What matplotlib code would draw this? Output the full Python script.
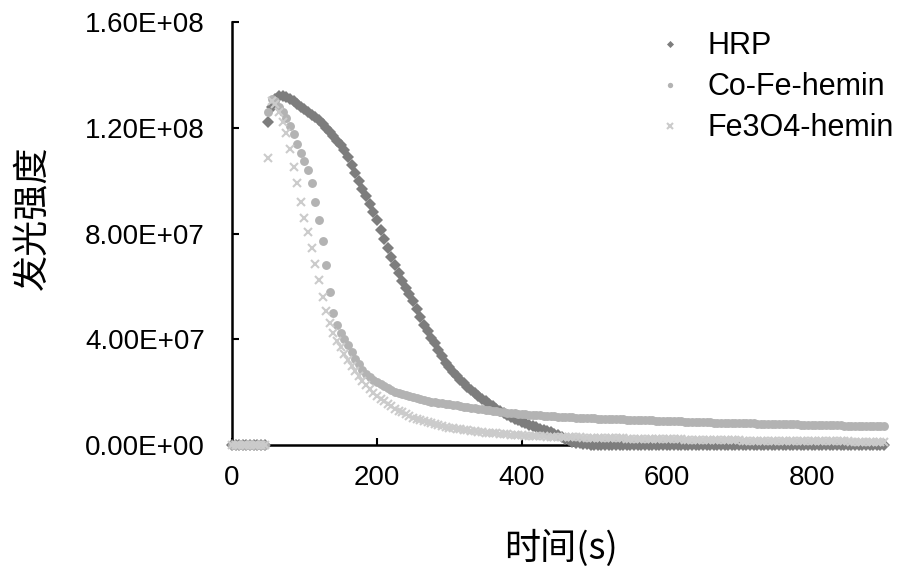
import numpy as np
import matplotlib
matplotlib.use('Agg')
import matplotlib.pyplot as plt
from matplotlib.ticker import FuncFormatter

# data (intensity in units of 1e7), one reading every 5 s from 0 to 900 s
step_s = 5
hrp = [0, 0, 0, 0, 0, 0, 0, 0, 0, 0,
       12.2, 12.8, 13.1, 13.2, 13.2, 13.15, 13.1, 13.0, 12.9, 12.8,
       12.7, 12.6, 12.5, 12.4, 12.3, 12.15, 12.0, 11.85, 11.7, 11.5,
       11.35, 11.15, 10.9, 10.6, 10.3, 10.0, 9.7, 9.4, 9.1, 8.8,
       8.5, 8.15, 7.8, 7.45, 7.1, 6.8, 6.5, 6.2, 5.95, 5.7,
       5.45, 5.15, 4.85, 4.55, 4.3, 4.05, 3.85, 3.6, 3.35, 3.1,
       2.95, 2.78, 2.62, 2.47, 2.33, 2.2, 2.08, 1.96, 1.85, 1.75,
       1.65, 1.56, 1.47, 1.38, 1.3, 1.22, 1.15, 1.07, 1.0, 0.94,
       0.88, 0.82, 0.77, 0.72, 0.67, 0.62, 0.58, 0.53, 0.48, 0.42,
       0.36, 0.3, 0.24, 0.18, 0.13, 0.09, 0.06, 0.04, 0.02] + [0] * 82

co_fe_hemin = [0, 0, 0, 0, 0, 0, 0, 0, 0, 0,
               12.6, 13.1, 13.0, 12.8, 12.6, 12.35, 12.05, 11.75, 11.4, 11.05,
               10.75, 10.4, 9.9, 9.2, 8.5, 7.7, 6.8, 5.8, 5.0, 4.55,
               4.25, 4.0, 3.8, 3.5, 3.25, 3.05, 2.85, 2.7, 2.58, 2.47,
               2.38, 2.3, 2.22, 2.15, 2.08, 2.02, 1.97, 1.92, 1.88, 1.84,
               1.8, 1.76, 1.73, 1.7, 1.67, 1.64, 1.62, 1.6, 1.58, 1.56,
               1.54, 1.52, 1.5, 1.48, 1.45, 1.43, 1.41, 1.39, 1.37, 1.35,
               1.33, 1.31, 1.29, 1.27, 1.25, 1.24, 1.22, 1.21, 1.2, 1.19,
               1.17, 1.16, 1.15, 1.14, 1.13, 1.12, 1.11, 1.1, 1.09, 1.08,
               1.07, 1.07, 1.06, 1.05, 1.05, 1.04, 1.03, 1.03, 1.02, 1.02,
               1.01,
               1.0, 1.0, 0.99, 0.99, 0.98, 0.98, 0.97, 0.97, 0.96, 0.96,
               0.95, 0.95, 0.94, 0.94, 0.93, 0.93, 0.92, 0.92, 0.91, 0.91,
               0.9, 0.9, 0.89, 0.89, 0.88, 0.88, 0.87, 0.87, 0.87, 0.86,
               0.86, 0.86, 0.85, 0.85, 0.85, 0.84, 0.84, 0.84, 0.83, 0.83,
               0.83, 0.82, 0.82, 0.82, 0.81, 0.81, 0.81, 0.8, 0.8, 0.8,
               0.79, 0.79, 0.79, 0.78, 0.78, 0.78, 0.77, 0.77, 0.77, 0.76,
               0.76, 0.76, 0.75, 0.75, 0.75, 0.74, 0.74, 0.74, 0.73, 0.73,
               0.73, 0.72, 0.72, 0.72, 0.71, 0.71, 0.71, 0.7, 0.7, 0.7]

fe3o4_hemin = [0, 0, 0, 0, 0, 0, 0, 0, 0, 0,
               10.85, 13.0, 12.9, 12.6, 12.2, 11.8, 11.2, 10.5, 9.9, 9.2,
               8.6, 8.05, 7.45, 6.85, 6.25, 5.6, 5.05, 4.6, 4.25, 3.95,
               3.7, 3.45, 3.22, 3.0, 2.8, 2.6, 2.43, 2.27, 2.12, 1.98,
               1.86, 1.75, 1.65, 1.55, 1.46, 1.38, 1.3, 1.23, 1.16, 1.1,
               1.04, 0.99, 0.95, 0.91, 0.87, 0.83, 0.79, 0.75, 0.72, 0.69,
               0.66, 0.64, 0.62, 0.6, 0.58, 0.56, 0.54, 0.52, 0.5, 0.49,
               0.47, 0.46, 0.45, 0.44, 0.42, 0.41, 0.4, 0.39, 0.38, 0.37,
               0.36,
               0.35, 0.35, 0.34, 0.34, 0.33, 0.33, 0.32, 0.32, 0.31, 0.31,
               0.3, 0.3, 0.3, 0.29, 0.29, 0.29, 0.28, 0.28, 0.28, 0.27,
               0.27, 0.27, 0.26, 0.26, 0.26, 0.25, 0.25, 0.25, 0.24, 0.24,
               0.24, 0.24, 0.23, 0.23, 0.23, 0.23, 0.22, 0.22, 0.22, 0.22,
               0.21, 0.21, 0.21, 0.21, 0.2, 0.2, 0.2, 0.2, 0.2, 0.19,
               0.19, 0.19, 0.19, 0.19, 0.18, 0.18, 0.18, 0.18, 0.18, 0.18,
               0.17, 0.17, 0.17, 0.17, 0.17, 0.17, 0.16, 0.16, 0.16, 0.16,
               0.16, 0.16, 0.16, 0.15, 0.15, 0.15, 0.15, 0.15, 0.15, 0.15,
               0.15, 0.14, 0.14, 0.14, 0.14, 0.14, 0.14, 0.14, 0.14, 0.14,
               0.13, 0.13, 0.13, 0.13, 0.13, 0.13, 0.13, 0.13, 0.13, 0.13]

series_names = ['HRP', 'Co-Fe-hemin', 'Fe3O4-hemin']
x_ticks = [0, 200, 400, 600, 800]
y_ticks = [0, 4e7, 8e7, 1.2e8, 1.6e8]

latin = 'Liberation Sans'
cjk = ['Noto Sans CJK SC', 'DejaVu Sans']

fig = plt.figure(figsize=(9.14, 5.73), dpi=100)
ax = fig.add_axes([232 / 914, 128 / 573, 652 / 914, 423 / 573])

styles = [dict(marker='D', color='#7d7d7d', ms=6.0, mew=0),
          dict(marker='o', color='#b3b3b3', ms=6.4, mew=0),
          dict(marker='x', color='#cbcbcb', ms=6.2, mew=1.5)]

for name, vals, st in zip(series_names, [hrp, co_fe_hemin, fe3o4_hemin], styles):
    y = np.array(vals) * 1e7
    t = np.arange(len(y)) * step_s
    ax.plot(t, y, linestyle='none', marker=st['marker'], color=st['color'],
            markersize=st['ms'], markeredgewidth=st['mew'], label=name,
            zorder=3, clip_on=False)

ax.set_xlim(0, 900)
ax.set_ylim(0, 1.6e8)
ax.set_xticks(x_ticks)
ax.set_yticks(y_ticks)
ax.yaxis.set_major_formatter(FuncFormatter(lambda v, p: '{:.2E}'.format(v)))

for s in ['top', 'right']:
    ax.spines[s].set_visible(False)
for s in ['left', 'bottom']:
    ax.spines[s].set_linewidth(1.8)
    ax.spines[s].set_zorder(2)

ax.tick_params(axis='both', direction='in', length=5, width=1.5, labelsize=20)
ax.tick_params(axis='y', pad=19.5)
ax.tick_params(axis='x', pad=14.5)
for lab in ax.get_xticklabels() + ax.get_yticklabels():
    lab.set_fontfamily(latin)

fig.text(32 / 914, 1 - 218 / 573, '发光强度', rotation=90, ha='center', va='center',
         fontsize=26, family=cjk)
fig.text(561 / 914, 1 - 548 / 573, '时间(s)', ha='center', va='center',
         fontsize=26, family=cjk)

leg = ax.legend(loc='upper left', bbox_to_anchor=(646 / 914, 1 - 19 / 573),
                bbox_transform=fig.transFigure, frameon=False,
                prop={'family': latin, 'size': 22}, handlelength=0.8,
                handletextpad=0.8, labelspacing=0.36, borderpad=0.4,
                borderaxespad=0, markerscale=0.6)

fig.savefig('out.png', dpi=100)
